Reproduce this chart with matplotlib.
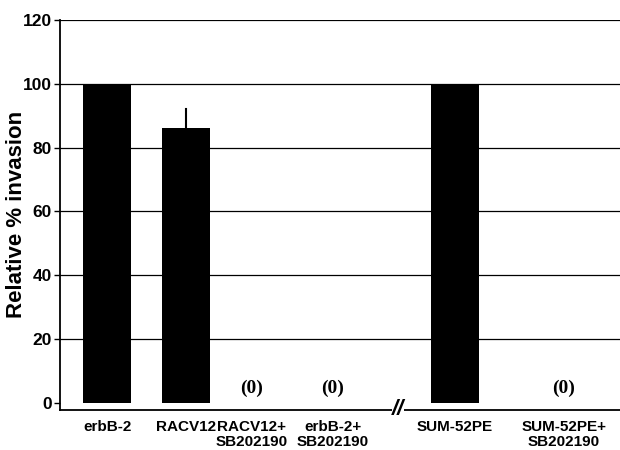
import matplotlib.pyplot as plt

labels = ["erbB-2", "RACV12", "RACV12+\nSB202190", "erbB-2+\nSB202190", "SUM-52PE", "SUM-52PE+\nSB202190"]
values = [100, 86, 0, 0, 100, 0]
errors = [0, 6, 0, 0, 0, 0]
positions = [0.595, 1.595, 2.42, 3.456, 5.0, 6.38]
break_pos = 4.278
yticks = [0, 20, 40, 60, 80, 100, 120]

plt.rcParams['font.family'] = ['Liberation Sans', 'DejaVu Sans']

fig = plt.figure(figsize=(6.2, 4.5), dpi=100)
ax = fig.add_axes([0.097, 0.089, 0.903, 0.867])

for y in yticks[1:]:
    ax.axhline(y, color="black", lw=1.6 if y == 120 else 0.9, zorder=1)

ax.bar(positions, values, width=0.61, color="black", zorder=2)
for x, v, e in zip(positions, values, errors):
    if e > 0:
        ax.plot([x, x], [v, v + e], color="black", lw=1.5, zorder=3)
    if v == 0:
        ax.text(x, 4.5, "(0)", ha="center", va="center", fontsize=14,
                fontweight="bold", family="Liberation Serif")

ax.set_xlim(0, 7.09)
ax.set_ylim(-2.2, 120)
ax.set_yticks(yticks)
ax.set_yticklabels([str(t) for t in yticks], fontsize=12.5, fontweight="bold")
ax.tick_params(axis="y", length=4, width=1, pad=2)
ax.set_xticks(positions)
ax.set_xticklabels(labels, fontsize=11, fontweight="bold", linespacing=1.1)
ax.tick_params(axis="x", length=0, pad=7)
ax.set_ylabel("Relative % invasion", fontsize=16, fontweight="bold")
ax.yaxis.set_label_coords(-0.06, 0.5)

for s in ["top", "right"]:
    ax.spines[s].set_visible(False)
ax.spines["left"].set_linewidth(1.3)
ax.spines["bottom"].set_linewidth(1.3)

ax.text(break_pos, -2.2, "//", ha="center", va="center", fontsize=16,
        fontweight="bold", style="italic", transform=ax.transData,
        clip_on=False, bbox=dict(facecolor="white", edgecolor="none", pad=0))

fig.savefig("out.png")
